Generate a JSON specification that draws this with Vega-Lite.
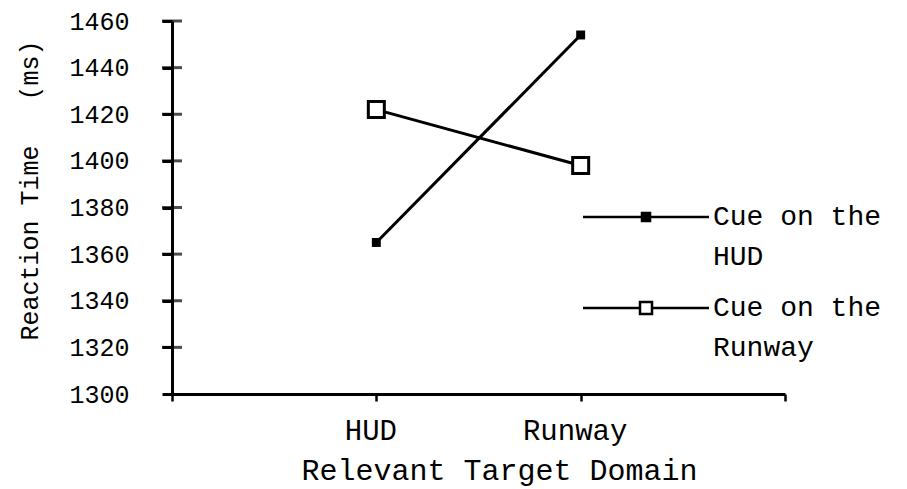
{
  "$schema": "https://vega.github.io/schema/vega-lite/v6.json",
  "width": 613,
  "height": 373,
  "autosize": {"type": "none"},
  "padding": {"left": 172, "top": 21, "right": 122, "bottom": 95},
  "background": "white",
  "config": {
    "view": {"stroke": null},
    "font": "Liberation Mono",
    "style": {"guide-label": {"lineHeight": 40}}
  },
  "datasets": {
    "rt": [
      {"cue": "Cue on the HUD", "domain": "HUD", "rt": 1365},
      {"cue": "Cue on the HUD", "domain": "Runway", "rt": 1454},
      {"cue": "Cue on the Runway", "domain": "HUD", "rt": 1422},
      {"cue": "Cue on the Runway", "domain": "Runway", "rt": 1398}
    ],
    "yticks": [
      {"v": 1320}, {"v": 1340}, {"v": 1360}, {"v": 1380},
      {"v": 1400}, {"v": 1420}, {"v": 1440}, {"v": 1460}
    ]
  },
  "encoding": {
    "x": {
      "field": "domain", "type": "nominal",
      "scale": {"type": "point", "domain": ["L", "HUD", "Runway", "R"], "padding": 0},
      "axis": {
        "title": "Relevant Target Domain",
        "labelAngle": 0,
        "labelExpr": "datum.value == 'HUD' || datum.value == 'Runway' ? datum.label : ''",
        "labelFont": "Liberation Mono", "labelFontSize": 29, "labelColor": "black",
        "labelPadding": 15, "labelOffset": -6,
        "titleFont": "Liberation Mono", "titleFontSize": 30, "titleFontWeight": "normal", "titleColor": "black",
        "titlePadding": 10, "titleX": 327, "titleAlign": "center",
        "domainColor": "black", "domainWidth": 3,
        "tickColor": "black", "tickWidth": 2.5, "tickSize": 7,
        "grid": false
      }
    },
    "y": {
      "field": "rt", "type": "quantitative",
      "scale": {"domain": [1300, 1460], "nice": false, "zero": false},
      "axis": {
        "title": "Reaction Time\u00a0\u00a0\u00a0(ms)",
        "values": [1300, 1320, 1340, 1360, 1380, 1400, 1420, 1440, 1460],
        "format": "d",
        "labelFont": "Liberation Mono", "labelFontSize": 25, "labelColor": "black",
        "labelPadding": 33,
        "titleFont": "Liberation Mono", "titleFontSize": 25, "titleFontWeight": "normal", "titleColor": "black",
        "titleX": -135, "titleY": 169, "titleAlign": "center", "titleBaseline": "alphabetic", "titleAngle": -90,
        "domainColor": "black", "domainWidth": 3,
        "tickColor": "black", "tickWidth": 3, "tickSize": 10,
        "grid": false
      }
    }
  },
  "layer": [
    {
      "data": {"name": "yticks"},
      "mark": {"type": "tick", "orient": "horizontal", "color": "black", "size": 20, "thickness": 3},
      "encoding": {
        "x": {"datum": "L"},
        "y": {"field": "v", "type": "quantitative"}
      }
    },
    {
      "data": {"name": "rt"},
      "mark": {"type": "line", "color": "black", "strokeWidth": 3},
      "encoding": {"detail": {"field": "cue"}}
    },
    {
      "data": {"name": "rt"},
      "transform": [{"filter": "datum.cue == 'Cue on the HUD'"}],
      "mark": {"type": "point", "shape": "square", "filled": true, "color": "black", "size": 80, "opacity": 1}
    },
    {
      "data": {"name": "rt"},
      "transform": [{"filter": "datum.cue == 'Cue on the Runway'"}],
      "mark": {"type": "point", "shape": "square", "filled": true, "fill": "white", "stroke": "black", "strokeWidth": 3, "size": 256, "opacity": 1}
    },
    {
      "data": {"name": "rt"},
      "mark": {"type": "point", "filled": true, "opacity": 0, "strokeWidth": 2.5},
      "encoding": {
        "shape": {
          "field": "cue", "type": "nominal",
          "scale": {
            "domain": ["Cue on the HUD", "Cue on the Runway"],
            "range": [
              "M-6.3,-0.8H-0.4M0.4,-0.8H6.3M-0.4,-1.2H0.4V-0.4H-0.4Z",
              "M-6.3,-0.8H-0.6M0.6,-0.8H6.3M-0.6,-1.4H0.6V-0.2H-0.6Z"
            ]
          },
          "legend": {
            "orient": "none", "legendX": 460, "legendY": 190,
            "title": null, "padding": 0,
            "symbolSize": 400, "symbolOpacity": 1,
            "symbolStrokeColor": "black", "symbolStrokeWidth": 2.5,
            "labelExpr": "datum.label == 'Cue on the HUD' ? ['Cue on the', 'HUD'] : ['Cue on the', 'Runway']",
            "labelFont": "Liberation Mono", "labelFontSize": 28, "labelColor": "black",
            "labelBaseline": "alphabetic", "labelOffset": 53, "labelLimit": 400,
            "rowPadding": 23
          }
        },
        "fill": {
          "field": "cue", "type": "nominal",
          "scale": {"domain": ["Cue on the HUD", "Cue on the Runway"], "range": ["black", "white"]}
        },
        "stroke": {
          "field": "cue", "type": "nominal",
          "scale": {"domain": ["Cue on the HUD", "Cue on the Runway"], "range": ["black", "black"]}
        }
      }
    }
  ]
}
